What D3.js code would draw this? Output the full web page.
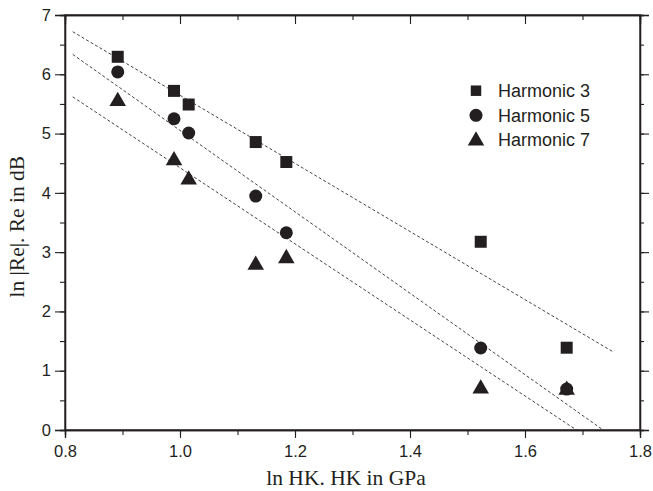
<!DOCTYPE html>
<html>
<head>
<meta charset="utf-8">
<script src="https://cdn.jsdelivr.net/npm/d3@7"></script>
<style>
  html, body { margin: 0; padding: 0; background: #fff; }
  svg { display: block; }
</style>
</head>
<body>
<svg id="chart" width="653" height="491"></svg>
<script>
// ln HK values (GPa) of the samples
const lnHK = [0.8917, 0.9896, 1.0151, 1.1317, 1.1849, 1.523, 1.6725];
// ln |Re| (dB) per harmonic
const harmonic3 = [6.295, 5.72, 5.49, 4.857, 4.52, 3.175, 1.388];
const harmonic5 = [6.04, 5.25, 5.01, 3.946, 3.327, 1.383, 0.69];
const harmonic7 = [5.57, 4.57, 4.245, 2.81, 2.92, 0.72, 0.70];
const seriesNames = ["Harmonic 3", "Harmonic 5", "Harmonic 7"];
// linear fits y = intercept + slope * x, drawn over fitRange
const fitIntercept = [11.391, 11.922, 10.837];
const fitSlope = [-5.745, -6.868, -6.414];
const fitRange = [0.8134, 1.7518];
const xTicks = [0.8, 1.0, 1.2, 1.4, 1.6, 1.8];
const yTicks = [0, 1, 2, 3, 4, 5, 6, 7];

const ink = "#231f20";
const svg = d3.select("#chart");
const plotLeft = 65, plotRight = 640, plotTop = 15, plotBottom = 430;
const x = d3.scaleLinear().domain([0.8, 1.8]).range([plotLeft, plotRight]);
const y = d3.scaleLinear().domain([0, 7]).range([plotBottom, plotTop]);

svg.append("defs").append("clipPath").attr("id", "plotClip")
  .append("rect").attr("x", plotLeft).attr("y", plotTop)
  .attr("width", plotRight - plotLeft).attr("height", plotBottom - plotTop);

// fit lines
const fitLine = d3.line().x(d => x(d[0])).y(d => y(d[1]));
fitSlope.forEach((b, i) => {
  const a = fitIntercept[i];
  svg.append("path")
    .attr("clip-path", "url(#plotClip)")
    .attr("d", fitLine(fitRange.map(v => [v, a + b * v])))
    .attr("fill", "none").attr("stroke", "#444")
    .attr("stroke-width", 1).attr("stroke-dasharray", "3,2.2");
});

// axes
const minorX = d3.range(0.8, 1.81, 0.1);
const minorY = d3.range(0, 7.01, 0.5);
const fmtX = d3.format(".1f");
const axisFont = "Liberation Sans, Arial, sans-serif";

svg.append("g").attr("transform", `translate(0,${plotBottom})`)
  .call(d3.axisBottom(x).tickValues(minorX).tickFormat("").tickSize(5));
svg.append("g").attr("transform", `translate(0,${plotBottom})`)
  .call(d3.axisBottom(x).tickValues(xTicks).tickFormat(fmtX).tickSize(8).tickPadding(7));
svg.append("g").attr("transform", `translate(0,${plotTop})`)
  .call(d3.axisBottom(x).tickValues(minorX).tickFormat("").tickSize(5));
svg.append("g").attr("transform", `translate(0,${plotTop})`)
  .call(d3.axisBottom(x).tickValues(xTicks).tickFormat("").tickSize(9));

svg.append("g").attr("transform", `translate(${plotLeft},0)`)
  .call(d3.axisLeft(y).tickValues(minorY).tickFormat("").tickSize(5));
svg.append("g").attr("transform", `translate(${plotLeft},0)`)
  .call(d3.axisLeft(y).tickValues(yTicks).tickFormat(d3.format("d")).tickSize(10).tickPadding(4));
svg.append("g").attr("transform", `translate(${plotRight},0)`)
  .call(d3.axisLeft(y).tickValues(minorY).tickFormat("").tickSize(-4));
svg.append("g").attr("transform", `translate(${plotRight},0)`)
  .call(d3.axisLeft(y).tickValues(yTicks).tickFormat("").tickSize(-9));

svg.selectAll(".domain").attr("stroke", ink).attr("stroke-width", 1.3);
svg.selectAll(".tick line").attr("stroke", ink).attr("stroke-width", 1.1);
svg.selectAll(".tick text").attr("fill", ink)
  .style("font-family", axisFont).style("font-size", "16.5px");

// frame
svg.append("rect").attr("x", plotLeft).attr("y", plotTop)
  .attr("width", plotRight - plotLeft).attr("height", plotBottom - plotTop)
  .attr("fill", "none").attr("stroke", ink).attr("stroke-width", 1.3);

// markers
const symbols = [d3.symbolSquare, d3.symbolCircle, d3.symbolTriangle];
const sizes = [144, 133, 118];
const series = [harmonic3, harmonic5, harmonic7];
series.forEach((vals, i) => {
  svg.append("g").selectAll("path").data(vals).join("path")
    .attr("transform", (d, j) => `translate(${x(lnHK[j])},${y(d) + (i === 2 ? 1.5 : 0)})`)
    .attr("d", d3.symbol().type(symbols[i]).size(sizes[i]))
    .attr("fill", ink);
});

// legend
const legendY = [90.7, 115.3, 139.3];
const legendSizes = [110, 133, 118];
seriesNames.forEach((name, i) => {
  svg.append("path")
    .attr("transform", `translate(476,${legendY[i] + (i === 2 ? 1.5 : 0)})`)
    .attr("d", d3.symbol().type(symbols[i]).size(legendSizes[i]))
    .attr("fill", ink);
  svg.append("text").attr("x", 498).attr("y", legendY[i] + 6.5)
    .attr("fill", ink).style("font-family", axisFont).style("font-size", "18px")
    .text(name);
});

// axis titles
svg.append("text").attr("x", 346).attr("y", 485).attr("text-anchor", "middle")
  .attr("fill", ink).style("font-family", "Liberation Serif, Times New Roman, serif")
  .style("font-size", "21.5px").text("ln HK. HK in GPa");
svg.append("text").attr("transform", "translate(24,226.7) rotate(-90)")
  .attr("text-anchor", "middle")
  .attr("fill", ink).style("font-family", "Liberation Serif, Times New Roman, serif")
  .style("font-size", "21.5px").text("ln |Re|. Re in dB");
</script>
</body>
</html>
